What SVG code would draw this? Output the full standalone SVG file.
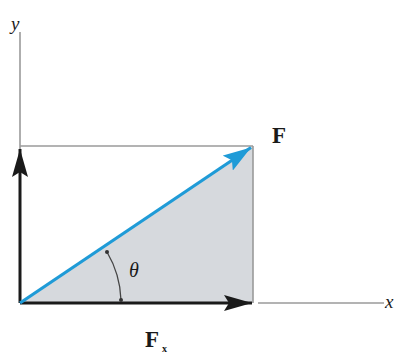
<svg xmlns="http://www.w3.org/2000/svg" width="398" height="354" viewBox="0 0 398 354">
<style>
.axis{stroke:#9a9a9a;stroke-width:1.6;fill:none}
.comp{stroke:#1a1a1a;stroke-width:3;fill:none}
.vec{stroke:#1f9bd7;stroke-width:3.2;fill:none}
.lbl{font-family:"Liberation Serif",serif;fill:#1a1a1a}
</style>
<defs>
<marker id="ah" markerUnits="userSpaceOnUse" markerWidth="30" markerHeight="16" refX="28" refY="8" orient="auto">
<path d="M0,0 L28,8 L0,16 L5,8 Z" fill="#1a1a1a"/>
</marker>
<marker id="ahb" markerUnits="userSpaceOnUse" markerWidth="30" markerHeight="18" refX="28" refY="9" orient="auto">
<path d="M0,0 L28,9 L0,18 L5,9 Z" fill="#1f9bd7"/>
</marker>
<marker id="dot" markerUnits="userSpaceOnUse" markerWidth="6" markerHeight="6" refX="3" refY="3">
<circle cx="3" cy="3" r="2" fill="#333"/>
</marker>
</defs>
<rect width="398" height="354" fill="#ffffff"/>
<g id="shade">
<polygon points="20,303 253,146 253,303" fill="#d6d9dd"/>
</g>
<g id="axes">
<line class="axis" x1="20" y1="32" x2="20" y2="303"/>
<line class="axis" x1="258" y1="303" x2="384" y2="303"/>
<line class="axis" x1="20" y1="146" x2="253" y2="146"/>
<line class="axis" x1="253" y1="146" x2="253" y2="303"/>
<text class="lbl" x="11" y="30" font-size="19" font-style="italic" fill="#888">y</text>
<text class="lbl" x="385" y="308" font-size="19" font-style="italic" fill="#888">x</text>
</g>
<g id="connectors">
<line id="fy" class="comp" x1="20" y1="303" x2="20" y2="149" marker-end="url(#ah)"/>
<line id="fx" class="comp" x1="20" y1="303" x2="252" y2="303" marker-end="url(#ah)"/>
<line id="f" class="vec" x1="20" y1="303" x2="251" y2="147.5" marker-end="url(#ahb)"/>
<path id="arc" d="M107,252 A101,101 0 0 1 121,300" fill="none" stroke="#444" stroke-width="1.3" marker-start="url(#dot)" marker-end="url(#dot)"/>
</g>
<g id="labels">
<text class="lbl" x="272" y="143" font-size="23" font-weight="bold">F</text>
<text class="lbl" x="145" y="347" font-size="23" font-weight="bold">F</text>
<text class="lbl" x="162" y="352" font-size="10" font-weight="bold">x</text>
<text class="lbl" x="129" y="277" font-size="20" font-style="italic" fill="#333">θ</text>
</g>
</svg>
